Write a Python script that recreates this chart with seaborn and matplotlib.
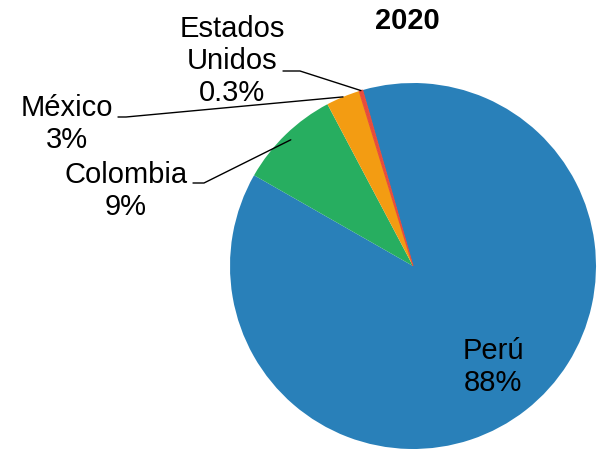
import matplotlib.pyplot as plt
import numpy as np
import seaborn as sns

sns.set_theme(style="white")
plt.rcParams['font.family'] = ['Liberation Sans', 'DejaVu Sans']
plt.rcParams['text.color'] = 'black'

# data
countries = ['Perú', 'Colombia', 'México', 'Estados\nUnidos']
shares = [87.7, 9.0, 3.0, 0.3]
pct_labels = ['88%', '9%', '3%', '0.3%']
colors = ['#2980B9', '#27AE60', '#F39C12', '#E74C3C']

# layout (pixels in a 597x449 figure)
W, H = 597, 449
cx, cy, R = 413, 266, 183
label_pos = [(493, 367), (126, 191), (67, 124), (232, 61)]
# leader lines: start point, elbow length, end radius
leaders = [None, ((193, 183), 11, 0.96), ((118, 117), 8, 1.0), ((283, 71), 17, 1.0)]

fig = plt.figure(figsize=(W / 100, H / 100), dpi=100)
ax = fig.add_axes([0, 0, 1, 1])

wedges, _ = ax.pie(shares, colors=colors, startangle=106, counterclock=False,
                   wedgeprops=dict(linewidth=0))
wedges[-1].set_edgecolor(colors[-1])
wedges[-1].set_linewidth(0.8)

ax.set_xlim(-cx / R, (W - cx) / R)
ax.set_ylim(-(H - cy) / R, cy / R)
ax.set_aspect('auto')
ax.axis('off')


def to_data(px, py):
    return (px - cx) / R, (cy - py) / R


for name, pct, (px, py) in zip(countries, pct_labels, label_pos):
    x, y = to_data(px, py)
    ax.text(x, y, f"{name}\n{pct}", ha='center', va='center', fontsize=21,
            linespacing=1.2, color='black')

for w, ld in zip(wedges, leaders):
    if ld is None:
        continue
    (sx, sy), elbow, r = ld
    mid = np.deg2rad((w.theta1 + w.theta2) / 2)
    ex, ey = r * np.cos(mid), r * np.sin(mid)
    x0, y0 = to_data(sx, sy)
    x1, _ = to_data(sx + elbow, sy)
    ax.plot([x0, x1, ex], [y0, y0, ey], color='black', linewidth=1)

fig.text(407 / W, 1 - 21 / H, '2020', ha='center', va='center',
         fontsize=21, fontweight='bold', color='black')

fig.savefig('out.png', dpi=100)
